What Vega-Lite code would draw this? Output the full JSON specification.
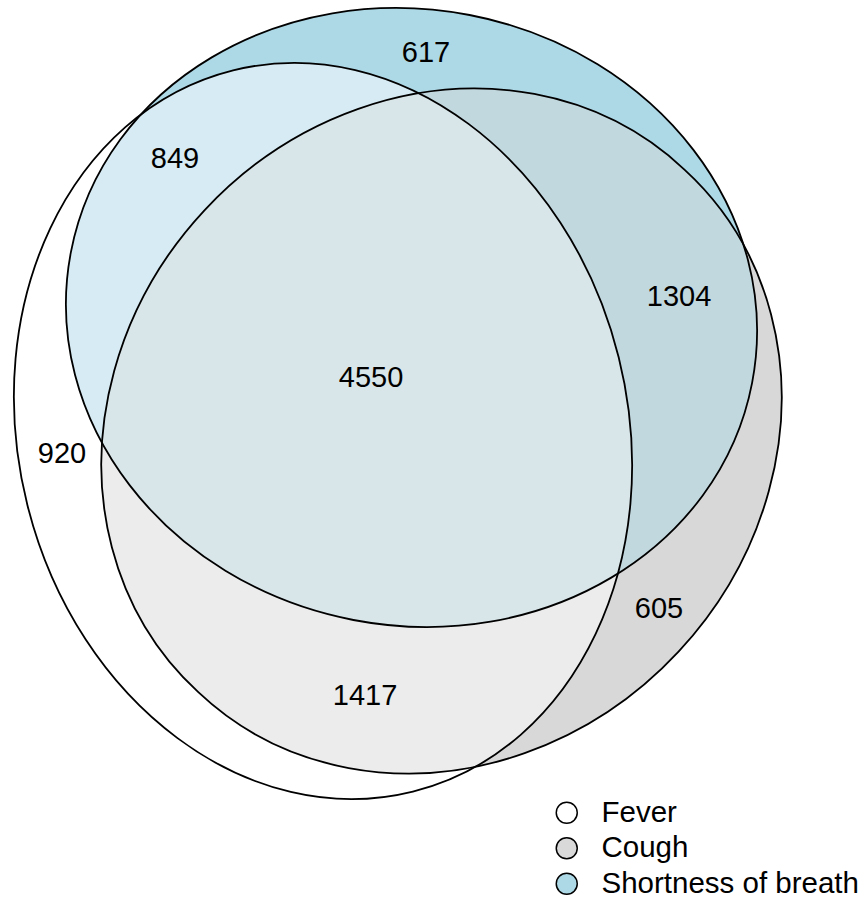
{
  "$schema": "https://vega.github.io/schema/vega-lite/v6.json",
  "width": 861,
  "height": 901,
  "autosize": {"type": "none"},
  "padding": 0,
  "background": "white",
  "config": {"view": {"stroke": null}},
  "datasets": {
    "sets": [
      {"set": "Fever", "x": 323, "y": 431},
      {"set": "Cough", "x": 441.5, "y": 431},
      {"set": "Shortness of breath", "x": 411.5, "y": 317.5}
    ],
    "labels": [
      {"label": "617", "x": 426, "y": 62},
      {"label": "849", "x": 175, "y": 168},
      {"label": "1304", "x": 679, "y": 306},
      {"label": "4550", "x": 371, "y": 387},
      {"label": "920", "x": 62, "y": 463},
      {"label": "1417", "x": 365, "y": 705},
      {"label": "605", "x": 659, "y": 618}
    ]
  },
  "encoding": {
    "x": {"field": "x", "type": "quantitative", "axis": null, "scale": {"domain": [0, 861], "nice": false, "zero": false}},
    "y": {"field": "y", "type": "quantitative", "axis": null, "scale": {"domain": [0, 901], "reverse": true, "nice": false, "zero": false}}
  },
  "layer": [
    {
      "data": {"name": "sets"},
      "transform": [{"filter": "datum.set === 'Cough'"}],
      "mark": {"type": "point", "filled": true, "opacity": 1, "strokeWidth": 0, "size": 4,
        "shape": "M243.2,-261.2A356.9,321.7,-47.04,1,1,-243.2,261.2A356.9,321.7,-47.04,1,1,243.2,-261.2Z"},
      "encoding": {
        "color": {"field": "set", "type": "nominal",
          "scale": {"domain": ["Fever", "Cough", "Shortness of breath"], "range": ["#ffffff", "#d9d9d9", "#add8e6"]},
          "legend": {"title": null, "orient": "none", "legendX": 552, "legendY": 798, "padding": 0, "offset": 0,
            "symbolType": "circle", "symbolSize": 441, "symbolStrokeColor": "black", "symbolStrokeWidth": 1.5, "symbolOpacity": 1,
            "labelFont": "Liberation Sans", "labelFontSize": 29.5, "labelColor": "black", "labelOffset": 20, "labelLimit": 0, "rowPadding": 4.5,
            "encode": {"symbols": {"update": {"stroke": {"value": "black"}, "strokeWidth": {"value": 1.5}, "opacity": {"value": 1}}}}}
        }
      }
    },
    {
      "data": {"name": "sets"},
      "transform": [{"filter": "datum.set === 'Shortness of breath'"}],
      "mark": {"type": "point", "filled": true, "opacity": 1, "strokeWidth": 0, "size": 4,
        "shape": "M340.6,65.4A346.8,308,10.87,1,1,-340.6,-65.4A346.8,308,10.87,1,1,340.6,65.4Z"},
      "encoding": {"color": {"field": "set", "type": "nominal"}}
    },
    {
      "data": {"name": "sets"},
      "transform": [{"filter": "datum.set === 'Cough'"}],
      "mark": {"type": "point", "filled": true, "opacity": 0.375, "strokeWidth": 0, "size": 4,
        "shape": "M243.2,-261.2A356.9,321.7,-47.04,1,1,-243.2,261.2A356.9,321.7,-47.04,1,1,243.2,-261.2Z"},
      "encoding": {"color": {"field": "set", "type": "nominal"}}
    },
    {
      "data": {"name": "sets"},
      "transform": [{"filter": "datum.set === 'Fever'"}],
      "mark": {"type": "point", "filled": true, "opacity": 0.75, "strokeWidth": 0, "size": 4,
        "shape": "M89.9,360.6A371.6,304.7,76,1,1,-89.9,-360.6A371.6,304.7,76,1,1,89.9,360.6Z"},
      "encoding": {"color": {"field": "set", "type": "nominal"}}
    },
    {
      "data": {"name": "sets"},
      "transform": [{"filter": "datum.set === 'Shortness of breath'"}],
      "mark": {"type": "point", "filled": true, "opacity": 0.3333, "strokeWidth": 0, "size": 4,
        "shape": "M340.6,65.4A346.8,308,10.87,1,1,-340.6,-65.4A346.8,308,10.87,1,1,340.6,65.4Z"},
      "encoding": {"color": {"field": "set", "type": "nominal"}}
    },
    {
      "data": {"name": "sets"},
      "transform": [{"filter": "datum.set === 'Cough'"}],
      "mark": {"type": "point", "filled": true, "opacity": 0.3333, "strokeWidth": 0, "size": 4,
        "shape": "M243.2,-261.2A356.9,321.7,-47.04,1,1,-243.2,261.2A356.9,321.7,-47.04,1,1,243.2,-261.2Z"},
      "encoding": {"color": {"field": "set", "type": "nominal"}}
    },
    {
      "data": {"name": "sets"},
      "transform": [{"filter": "datum.set === 'Fever'"}],
      "mark": {"type": "point", "filled": false, "opacity": 1, "strokeWidth": 1.8, "size": 4,
        "shape": "M89.9,360.6A371.6,304.7,76,1,1,-89.9,-360.6A371.6,304.7,76,1,1,89.9,360.6Z"},
      "encoding": {"color": {"value": "black"}}
    },
    {
      "data": {"name": "sets"},
      "transform": [{"filter": "datum.set === 'Cough'"}],
      "mark": {"type": "point", "filled": false, "opacity": 1, "strokeWidth": 1.8, "size": 4,
        "shape": "M243.2,-261.2A356.9,321.7,-47.04,1,1,-243.2,261.2A356.9,321.7,-47.04,1,1,243.2,-261.2Z"},
      "encoding": {"color": {"value": "black"}}
    },
    {
      "data": {"name": "sets"},
      "transform": [{"filter": "datum.set === 'Shortness of breath'"}],
      "mark": {"type": "point", "filled": false, "opacity": 1, "strokeWidth": 1.8, "size": 4,
        "shape": "M340.6,65.4A346.8,308,10.87,1,1,-340.6,-65.4A346.8,308,10.87,1,1,340.6,65.4Z"},
      "encoding": {"color": {"value": "black"}}
    },
    {
      "data": {"name": "labels"},
      "mark": {"type": "text", "font": "Liberation Sans", "fontSize": 29, "color": "black", "align": "center", "baseline": "alphabetic"},
      "encoding": {"text": {"field": "label", "type": "nominal"}}
    }
  ]
}
